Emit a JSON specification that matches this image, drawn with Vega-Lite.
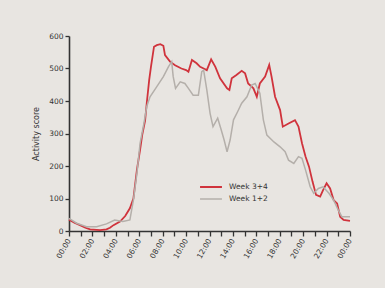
{
  "$schema": "https://vega.github.io/schema/vega-lite/v6.json",
  "width": 281,
  "height": 195,
  "autosize": "none",
  "padding": {"left": 69, "top": 36, "right": 35, "bottom": 57},
  "background": "#e8e5e1",
  "config": {
    "view": {"stroke": null},
    "axis": {
      "grid": false,
      "labelFont": "DejaVu Sans",
      "labelFontSize": 7.5,
      "labelColor": "#333333",
      "titleFont": "DejaVu Sans",
      "titleFontSize": 8,
      "titleFontWeight": "normal",
      "titleColor": "#333333",
      "domainColor": "#333333",
      "domainWidth": 1.6,
      "tickColor": "#333333",
      "tickWidth": 1.3,
      "tickSize": 4
    },
    "legend": {"labelFont": "DejaVu Sans", "labelFontSize": 7.5, "labelColor": "#333333"}
  },
  "data": {
    "values": [
      {"s": "Week 3+4", "h": 0, "v": 35}, {"s": "Week 3+4", "h": 0.5, "v": 25}, {"s": "Week 3+4", "h": 0.94, "v": 18}, {"s": "Week 3+4", "h": 1.4, "v": 10}, {"s": "Week 3+4", "h": 1.8, "v": 5}, {"s": "Week 3+4", "h": 2.65, "v": 3}, {"s": "Week 3+4", "h": 3.2, "v": 5}, {"s": "Week 3+4", "h": 3.5, "v": 10}, {"s": "Week 3+4", "h": 3.8, "v": 18}, {"s": "Week 3+4", "h": 4.36, "v": 29}, {"s": "Week 3+4", "h": 4.8, "v": 46}, {"s": "Week 3+4", "h": 5.2, "v": 70}, {"s": "Week 3+4", "h": 5.5, "v": 100}, {"s": "Week 3+4", "h": 5.8, "v": 188}, {"s": "Week 3+4", "h": 6.07, "v": 250}, {"s": "Week 3+4", "h": 6.25, "v": 295}, {"s": "Week 3+4", "h": 6.5, "v": 340}, {"s": "Week 3+4", "h": 6.64, "v": 393}, {"s": "Week 3+4", "h": 6.85, "v": 465}, {"s": "Week 3+4", "h": 7.0, "v": 505}, {"s": "Week 3+4", "h": 7.26, "v": 567}, {"s": "Week 3+4", "h": 7.5, "v": 572}, {"s": "Week 3+4", "h": 7.8, "v": 575}, {"s": "Week 3+4", "h": 8.06, "v": 570}, {"s": "Week 3+4", "h": 8.2, "v": 541}, {"s": "Week 3+4", "h": 8.63, "v": 521}, {"s": "Week 3+4", "h": 9.06, "v": 510}, {"s": "Week 3+4", "h": 9.6, "v": 500}, {"s": "Week 3+4", "h": 10.0, "v": 495}, {"s": "Week 3+4", "h": 10.2, "v": 490}, {"s": "Week 3+4", "h": 10.5, "v": 526}, {"s": "Week 3+4", "h": 10.9, "v": 516}, {"s": "Week 3+4", "h": 11.2, "v": 505}, {"s": "Week 3+4", "h": 11.5, "v": 500}, {"s": "Week 3+4", "h": 11.77, "v": 495}, {"s": "Week 3+4", "h": 12.14, "v": 528}, {"s": "Week 3+4", "h": 12.5, "v": 505}, {"s": "Week 3+4", "h": 12.9, "v": 470}, {"s": "Week 3+4", "h": 13.5, "v": 439}, {"s": "Week 3+4", "h": 13.7, "v": 434}, {"s": "Week 3+4", "h": 13.9, "v": 470}, {"s": "Week 3+4", "h": 14.3, "v": 480}, {"s": "Week 3+4", "h": 14.75, "v": 493}, {"s": "Week 3+4", "h": 15.04, "v": 485}, {"s": "Week 3+4", "h": 15.3, "v": 454}, {"s": "Week 3+4", "h": 15.75, "v": 439}, {"s": "Week 3+4", "h": 16.04, "v": 413}, {"s": "Week 3+4", "h": 16.3, "v": 454}, {"s": "Week 3+4", "h": 16.75, "v": 475}, {"s": "Week 3+4", "h": 17.1, "v": 511}, {"s": "Week 3+4", "h": 17.3, "v": 475}, {"s": "Week 3+4", "h": 17.6, "v": 413}, {"s": "Week 3+4", "h": 18.03, "v": 372}, {"s": "Week 3+4", "h": 18.26, "v": 321}, {"s": "Week 3+4", "h": 18.75, "v": 331}, {"s": "Week 3+4", "h": 19.3, "v": 341}, {"s": "Week 3+4", "h": 19.6, "v": 321}, {"s": "Week 3+4", "h": 19.9, "v": 270}, {"s": "Week 3+4", "h": 20.2, "v": 229}, {"s": "Week 3+4", "h": 20.5, "v": 198}, {"s": "Week 3+4", "h": 20.8, "v": 152}, {"s": "Week 3+4", "h": 21.1, "v": 111}, {"s": "Week 3+4", "h": 21.45, "v": 106}, {"s": "Week 3+4", "h": 21.7, "v": 126}, {"s": "Week 3+4", "h": 22.0, "v": 147}, {"s": "Week 3+4", "h": 22.3, "v": 131}, {"s": "Week 3+4", "h": 22.6, "v": 95}, {"s": "Week 3+4", "h": 22.9, "v": 85}, {"s": "Week 3+4", "h": 23.16, "v": 44}, {"s": "Week 3+4", "h": 23.45, "v": 34}, {"s": "Week 3+4", "h": 24, "v": 31},
      {"s": "Week 1+2", "h": 0, "v": 39}, {"s": "Week 1+2", "h": 0.65, "v": 24}, {"s": "Week 1+2", "h": 1.5, "v": 13}, {"s": "Week 1+2", "h": 2.36, "v": 13}, {"s": "Week 1+2", "h": 3.2, "v": 22}, {"s": "Week 1+2", "h": 3.9, "v": 34}, {"s": "Week 1+2", "h": 4.6, "v": 29}, {"s": "Week 1+2", "h": 5.2, "v": 34}, {"s": "Week 1+2", "h": 5.5, "v": 95}, {"s": "Week 1+2", "h": 5.8, "v": 177}, {"s": "Week 1+2", "h": 6.07, "v": 270}, {"s": "Week 1+2", "h": 6.4, "v": 331}, {"s": "Week 1+2", "h": 6.64, "v": 383}, {"s": "Week 1+2", "h": 6.92, "v": 413}, {"s": "Week 1+2", "h": 7.5, "v": 444}, {"s": "Week 1+2", "h": 8.06, "v": 475}, {"s": "Week 1+2", "h": 8.5, "v": 506}, {"s": "Week 1+2", "h": 8.77, "v": 521}, {"s": "Week 1+2", "h": 8.9, "v": 475}, {"s": "Week 1+2", "h": 9.1, "v": 439}, {"s": "Week 1+2", "h": 9.5, "v": 459}, {"s": "Week 1+2", "h": 9.9, "v": 454}, {"s": "Week 1+2", "h": 10.2, "v": 439}, {"s": "Week 1+2", "h": 10.6, "v": 418}, {"s": "Week 1+2", "h": 11.05, "v": 418}, {"s": "Week 1+2", "h": 11.34, "v": 490}, {"s": "Week 1+2", "h": 11.5, "v": 495}, {"s": "Week 1+2", "h": 11.77, "v": 434}, {"s": "Week 1+2", "h": 12.05, "v": 362}, {"s": "Week 1+2", "h": 12.3, "v": 321}, {"s": "Week 1+2", "h": 12.7, "v": 347}, {"s": "Week 1+2", "h": 12.96, "v": 316}, {"s": "Week 1+2", "h": 13.25, "v": 280}, {"s": "Week 1+2", "h": 13.5, "v": 244}, {"s": "Week 1+2", "h": 13.76, "v": 280}, {"s": "Week 1+2", "h": 14.05, "v": 342}, {"s": "Week 1+2", "h": 14.4, "v": 367}, {"s": "Week 1+2", "h": 14.75, "v": 393}, {"s": "Week 1+2", "h": 15.2, "v": 413}, {"s": "Week 1+2", "h": 15.6, "v": 449}, {"s": "Week 1+2", "h": 15.9, "v": 454}, {"s": "Week 1+2", "h": 16.3, "v": 424}, {"s": "Week 1+2", "h": 16.6, "v": 342}, {"s": "Week 1+2", "h": 16.9, "v": 295}, {"s": "Week 1+2", "h": 17.5, "v": 274}, {"s": "Week 1+2", "h": 18.03, "v": 259}, {"s": "Week 1+2", "h": 18.46, "v": 244}, {"s": "Week 1+2", "h": 18.75, "v": 218}, {"s": "Week 1+2", "h": 19.2, "v": 208}, {"s": "Week 1+2", "h": 19.6, "v": 229}, {"s": "Week 1+2", "h": 19.9, "v": 224}, {"s": "Week 1+2", "h": 20.2, "v": 188}, {"s": "Week 1+2", "h": 20.6, "v": 136}, {"s": "Week 1+2", "h": 20.9, "v": 116}, {"s": "Week 1+2", "h": 21.3, "v": 131}, {"s": "Week 1+2", "h": 21.7, "v": 136}, {"s": "Week 1+2", "h": 22.2, "v": 116}, {"s": "Week 1+2", "h": 22.6, "v": 95}, {"s": "Week 1+2", "h": 23.0, "v": 64}, {"s": "Week 1+2", "h": 23.3, "v": 44}, {"s": "Week 1+2", "h": 24, "v": 44}
    ]
  },
  "mark": {"type": "line", "interpolate": "linear"},
  "encoding": {
    "x": {
      "field": "h",
      "type": "quantitative",
      "scale": {"domain": [0, 24], "nice": false},
      "axis": {
        "title": null,
        "values": [0,1,2,3,4,5,6,7,8,9,10,11,12,13,14,15,16,17,18,19,20,21,22,23,24],
        "labelExpr": "datum.value % 2 == 0 ? ((datum.value % 24) < 10 ? '0' : '') + (datum.value % 24) + ':00' : ''",
        "labelAngle": -60,
        "labelAlign": "right",
        "labelBaseline": "middle",
        "labelOverlap": false,
        "labelPadding": 3,
        "tickSize": 5
      }
    },
    "y": {
      "field": "v",
      "type": "quantitative",
      "scale": {"domain": [0, 600], "nice": false},
      "axis": {"title": "Activity score", "values": [0,100,200,300,400,500,600], "titlePadding": 8, "labelPadding": 2}
    },
    "color": {
      "field": "s",
      "type": "nominal",
      "sort": ["Week 3+4", "Week 1+2"],
      "scale": {"domain": ["Week 3+4", "Week 1+2"], "range": ["#d0333c", "#b4afaa"]},
      "legend": {"title": null, "orient": "none", "legendX": 130, "legendY": 145, "symbolType": "stroke", "symbolSize": 480, "symbolStrokeWidth": 2, "rowPadding": 0, "clipHeight": 12, "labelOffset": 6, "symbolOffset": 0}
    },
    "strokeWidth": {
      "field": "s",
      "type": "nominal",
      "scale": {"domain": ["Week 3+4", "Week 1+2"], "range": [1.8, 1.5]},
      "legend": null
    },
    "order": {"field": "s", "sort": "ascending"}
  }
}
